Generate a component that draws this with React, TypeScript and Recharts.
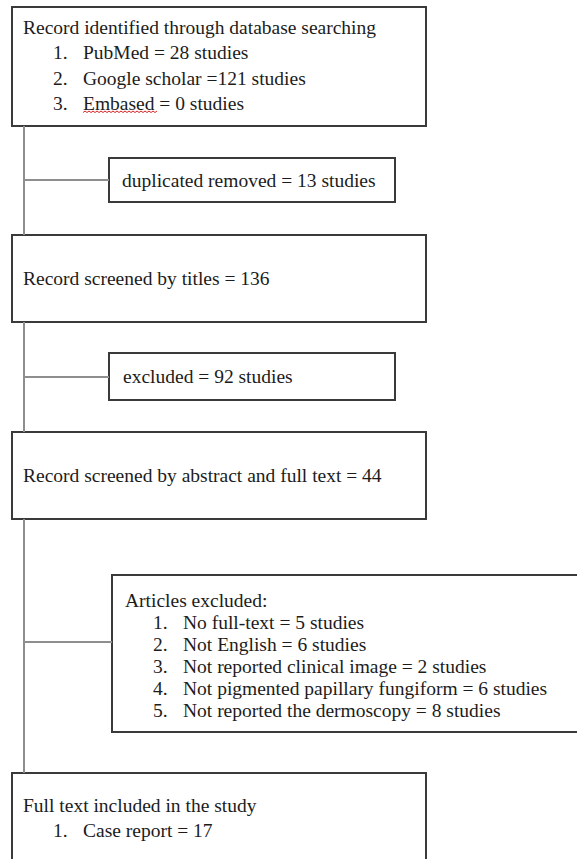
import React from 'react';
import { ComposedChart, XAxis, YAxis, ReferenceArea, ReferenceLine, Label } from 'recharts';

// values
const sourceNames = ['PubMed', 'Google scholar', 'Embased'];
const sourceCounts = [28, 121, 0];
const stageNames = ['duplicated removed', 'Record screened by titles', 'excluded', 'Record screened by abstract and full text'];
const stageCounts = [13, 136, 92, 44];
const stageUnits = [' studies', '', ' studies', ''];
const exclusionReasons = [
  'No full-text',
  'Not English',
  'Not reported clinical  image',
  'Not pigmented papillary fungiform',
  'Not reported the dermoscopy',
];
const exclusionCounts = [5, 6, 2, 6, 8];
const includedTypes = ['Case report'];
const includedCounts = [17];

const W = 577;
const H = 859;
const FONT = "'Liberation Serif', 'Times New Roman', serif";
const FS = 19.5;
const BOX_STROKE = '#3a3a3a';
const LINK_STROKE = '#8e8e8e';
const TEXT = '#1c1c1c';
const textStyle = { fontFamily: FONT, fontSize: FS };

type Line = { text: string; num?: string; wavy?: string };

const stageLine = (i: number): Line => ({
  text: `${stageNames[i]} = ${stageCounts[i]}${stageUnits[i]}`,
});

// box geometry (layout only)
interface BoxOpts {
  x1: number; x2: number; y1: number; y2: number;
  textX: number; numX?: number; itemX?: number;
  firstY?: number; gap?: number;
}

// red spell-check squiggle under a word
function squiggle(x: number, y: number, w: number) {
  let d = `M${x},${y}`;
  for (let k = 0, up = true; k < w; k += 2, up = !up) d += ` L${x + k + 2},${up ? y - 1.5 : y}`;
  return <path d={d} fill="none" stroke="#d62020" strokeWidth={1} />;
}

function boxText(lines: Line[], o: BoxOpts) {
  return (props: any) => {
    const vb = props.viewBox || { x: o.x1, y: o.y1, width: o.x2 - o.x1, height: o.y2 - o.y1 };
    const single = o.firstY === undefined;
    return (
      <g>
        {lines.map((ln, i) => {
          const cy = single ? vb.y + vb.height / 2 : vb.y + (o.firstY as number) + i * (o.gap as number);
          if (ln.num) {
            return (
              <g key={i}>
                <text x={o.numX} y={cy} dominantBaseline="central" style={textStyle} fill={TEXT}>
                  {ln.num}
                </text>
                <text x={o.itemX} y={cy} dominantBaseline="central" style={textStyle} fill={TEXT}>
                  {ln.wavy ? ln.wavy + ln.text : ln.text}
                </text>
                {ln.wavy ? squiggle(o.itemX as number, cy + 9, 73) : null}
              </g>
            );
          }
          return (
            <text key={i} x={o.textX} y={cy} dominantBaseline="central" style={textStyle} fill={TEXT}>
              {ln.text}
            </text>
          );
        })}
      </g>
    );
  };
}

const searchLines: Line[] = [
  { text: 'Record identified through database searching' },
  ...sourceNames.map((n, i) =>
    n === 'Embased'
      ? { num: `${i + 1}.`, wavy: n, text: ` = ${sourceCounts[i]} studies` }
      : { num: `${i + 1}.`, text: `${n} ${i === 1 ? '=' : '= '}${sourceCounts[i]} studies` }
  ),
];

const exclusionLines: Line[] = [
  { text: 'Articles excluded:' },
  ...exclusionReasons.map((r, i) => ({ num: `${i + 1}.`, text: `${r} = ${exclusionCounts[i]} studies` })),
];

const includedLines: Line[] = [
  { text: 'Full text included in the study' },
  ...includedTypes.map((t, i) => ({ num: `${i + 1}.`, text: `${t} = ${includedCounts[i]}` })),
];

const boxes: { lines: Line[]; o: BoxOpts }[] = [
  { lines: searchLines, o: { x1: 12, x2: 426, y1: 7, y2: 126, textX: 23, numX: 53, itemX: 83, firstY: 20, gap: 25.5 } },
  { lines: [stageLine(0)], o: { x1: 109, x2: 395, y1: 158, y2: 202, textX: 122 } },
  { lines: [stageLine(1)], o: { x1: 12, x2: 426, y1: 235, y2: 322, textX: 23 } },
  { lines: [stageLine(2)], o: { x1: 109, x2: 395, y1: 353, y2: 400, textX: 123 } },
  { lines: [stageLine(3)], o: { x1: 12, x2: 426, y1: 432, y2: 519, textX: 23 } },
  { lines: exclusionLines, o: { x1: 112, x2: 600, y1: 575, y2: 732, textX: 125, numX: 153, itemX: 183, firstY: 25, gap: 22 } },
  { lines: includedLines, o: { x1: 12, x2: 426, y1: 773, y2: 900, textX: 23, numX: 53, itemX: 83, firstY: 32, gap: 25 } },
];

// connectors: trunk pieces between the main boxes, and side branches
const links = [
  [{ x: 24, y: 126 }, { x: 24, y: 235 }],
  [{ x: 24, y: 322 }, { x: 24, y: 432 }],
  [{ x: 24, y: 519 }, { x: 24, y: 773 }],
  [{ x: 24, y: 180 }, { x: 109, y: 180 }],
  [{ x: 24, y: 377 }, { x: 109, y: 377 }],
  [{ x: 24, y: 642 }, { x: 112, y: 642 }],
];

export default function App() {
  return (
    <div style={{ position: 'fixed', left: 0, top: 0, width: W, height: H, background: '#fff', overflow: 'hidden' }}>
      <ComposedChart width={W} height={H} data={[]} margin={{ top: 0, right: 0, bottom: 0, left: 0 }}>
        <XAxis type="number" dataKey="x" domain={[0, W]} hide allowDataOverflow />
        <YAxis type="number" dataKey="y" domain={[0, H]} reversed hide allowDataOverflow />
        {links.map((seg, i) => (
          <ReferenceLine key={`l${i}`} segment={seg} stroke={LINK_STROKE} strokeWidth={2} ifOverflow="visible" />
        ))}
        {boxes.map((b, i) => (
          <ReferenceArea
            key={`b${i}`}
            x1={b.o.x1}
            x2={b.o.x2}
            y1={b.o.y1}
            y2={b.o.y2}
            fill="#fff"
            fillOpacity={1}
            stroke={BOX_STROKE}
            strokeWidth={2}
            ifOverflow="visible"
          >
            <Label content={boxText(b.lines, b.o)} />
          </ReferenceArea>
        ))}
      </ComposedChart>
    </div>
  );
}
